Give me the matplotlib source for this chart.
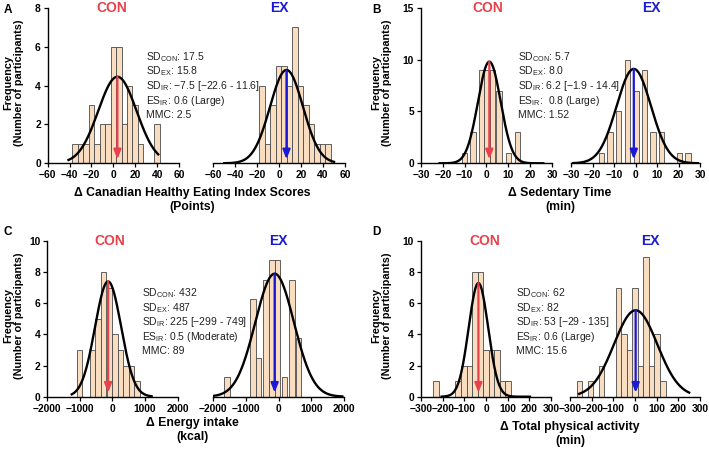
import numpy as np
import matplotlib
matplotlib.use("Agg")
import matplotlib.pyplot as plt

plt.rcParams['font.family'] = ['Liberation Sans', 'DejaVu Sans']
plt.rcParams['mathtext.fontset'] = 'custom'
plt.rcParams['mathtext.rm'] = 'Liberation Sans'
plt.rcParams['mathtext.it'] = 'Liberation Sans'

# ---- data ----
# A: Canadian Healthy Eating Index
a_con_x = [-35, -30, -25, -20, -15, -10, -5, 0, 5, 10, 15, 20, 25, 40]
a_con_n = [1, 1, 1, 3, 1, 2, 2, 6, 6, 2, 4, 3, 1, 2]
a_ex_x = [-15.5, -10.5, -5.5, -0.5, 4.5, 9.5, 14.5, 19.5, 24.5, 29.5, 34.5, 39.5, 44.5]
a_ex_n = [4, 1, 3, 5, 5, 4, 7, 4, 3, 2, 1, 1, 1]
# B: sedentary time
b_con_x = [-10, -6.1, -2.3, 0.3, 2.8, 5.7, 10.1, 14.3]
b_con_n = [1, 3, 9, 9, 9, 7, 1, 3]
b_ex_x = [-15.7, -11.8, -7.9, -3.8, 0.4, 4.1, 8.2, 12.1, 20.5, 24.4]
b_ex_n = [1, 3, 5, 10, 7, 9, 3, 3, 1, 1]
# C: energy intake
c_con_x = [-1015, -607, -439, -270, -97, 71, 240, 413, 582, 750]
c_con_n = [3, 3, 5, 8, 7, 4, 3, 2, 2, 1]
c_ex_x = [-1588, -785, -615, -385, -205, -38, 185, 412, 606]
c_ex_n = [1.25, 6.25, 2.5, 7.5, 8.75, 8.75, 1.25, 7.5, 3.75]
# D: total physical activity
d_con_x = [-230, -128, -102, -77, -51, -26, 0, 26, 51, 77, 102]
d_con_n = [1, 1, 2, 2, 8, 8, 3, 3, 3, 1, 1]
d_ex_x = [-256, -205, -154, -77, -51, -26, 0, 26, 51, 77, 102, 128]
d_ex_n = [1, 1, 2, 7, 4, 3, 7, 2, 9, 2, 4, 1]

# fitted normal curves: mean, sd, peak height, drawn range
a_con_fit = (3.7, 17.5, 4.45, -41, 41)
a_ex_fit = (6.7, 15.0, 4.8, -50, 50)
b_con_fit = (1.3, 5.2, 9.8, -21.5, 26)
b_ex_fit = (-0.8, 8.0, 9.1, -29, 29)
c_con_fit = (-135, 400, 7.4, -1250, 1200)
c_ex_fit = (-123, 590, 7.9, -2000, 1950)
d_con_fit = (-35, 45, 7.3, -205, 203)
d_ex_fit = (3, 100, 5.55, -258, 250)

stats_a = [r'SD$_{\rm CON}$: 17.5', r'SD$_{\rm EX}$: 15.8',
           r'SD$_{\rm IR}$: −7.5 [−22.6 - 11.6]', r'ES$_{\rm IR}$: 0.6 (Large)', 'MMC: 2.5']
stats_b = [r'SD$_{\rm CON}$: 5.7', r'SD$_{\rm EX}$: 8.0',
           r'SD$_{\rm IR}$: 6.2 [−1.9 - 14.4]', r'ES$_{\rm IR}$:  0.8 (Large)', 'MMC: 1.52']
stats_c = [r'SD$_{\rm CON}$: 432', r'SD$_{\rm EX}$: 487',
           r'SD$_{\rm IR}$: 225 [−299 - 749]', r'ES$_{\rm IR}$: 0.5 (Moderate)', 'MMC: 89']
stats_d = [r'SD$_{\rm CON}$: 62', r'SD$_{\rm EX}$: 82',
           r'SD$_{\rm IR}$: 53 [−29 - 135]', r'ES$_{\rm IR}$: 0.6 (Large)', 'MMC: 15.6']

RED = '#E8414B'
BLUE = '#1A1AD6'
BAR = '#F9DDC0'
W, H = 709, 450

fig = plt.figure(figsize=(7.09, 4.5), dpi=100)


def px_axes(left, right, top, bottom):
    return fig.add_axes([left / W, 1 - bottom / H, (right - left) / W, (bottom - top) / H])


def panel(ax, xs, ns, width, fit, color, xlim, xticks, ymax, yticks, show_y, title, title_x):
    ax.bar(xs, ns, width=width, color=BAR, edgecolor='#4a4a4a', linewidth=0.6, zorder=2)
    mu, sd, peak, x0, x1 = fit
    gx = np.linspace(x0, x1, 300)
    ax.plot(gx, peak * np.exp(-0.5 * ((gx - mu) / sd) ** 2), color='black', lw=1.7, zorder=4)
    ax.annotate('', xy=(mu, ymax * 0.026), xytext=(mu, peak),
                arrowprops=dict(arrowstyle='-|>,head_width=0.22,head_length=0.55',
                                color=color, lw=1.6, shrinkA=0, shrinkB=0, mutation_scale=10),
                zorder=5)
    ax.set_xlim(xlim)
    ax.set_ylim(0, ymax)
    ax.set_xticks(xticks)
    ax.spines['top'].set_visible(False)
    ax.spines['right'].set_visible(False)
    ax.spines['bottom'].set_linewidth(1.0)
    ax.spines['left'].set_linewidth(1.0)
    ax.tick_params(direction='out', length=3, width=0.9, labelsize=7.4, pad=2)
    if show_y:
        ax.set_yticks(yticks)
    else:
        ax.spines['left'].set_visible(False)
        ax.set_yticks([])
    for lbl in ax.get_xticklabels() + ax.get_yticklabels():
        lbl.set_fontweight('bold')
    ax.patch.set_alpha(0)
    ax.text(title_x, ymax, title, color=color, fontsize=10, fontweight='bold',
            ha='center', va='center', clip_on=False)


# panel A
ax = px_axes(47.7, 179, 7.7, 163.3)
panel(ax, a_con_x, a_con_n, 5, a_con_fit, RED, (-60, 60), range(-60, 61, 20), 8, range(0, 9, 2), True, 'CON', -1.5)
ax = px_axes(213.3, 345, 7.7, 163.3)
panel(ax, a_ex_x, a_ex_n, 5, a_ex_fit, BLUE, (-60, 60), range(-60, 61, 20), 8, [], False, 'EX', 0)

# panel B
ax = px_axes(421, 552, 7.7, 163.3)
panel(ax, b_con_x, b_con_n, 2.5, b_con_fit, RED, (-30, 30), range(-30, 31, 10), 15, range(0, 16, 5), True, 'CON', 0.5)
ax = px_axes(571, 700, 7.7, 163.3)
panel(ax, b_ex_x, b_ex_n, 2.5, b_ex_fit, BLUE, (-30, 30), range(-30, 31, 10), 15, [], False, 'EX', 7.5)

# panel C
ax = px_axes(47.3, 177.7, 241, 396.7)
panel(ax, c_con_x, c_con_n, 170, c_con_fit, RED, (-2000, 2000), range(-2000, 2001, 1000), 10, range(0, 11, 2), True, 'CON', -80)
ax = px_axes(213.3, 344, 241, 396.7)
panel(ax, c_ex_x, c_ex_n, 170, c_ex_fit, BLUE, (-2000, 2000), range(-2000, 2001, 1000), 10, [], False, 'EX', 0)

# panel D
ax = px_axes(421, 551, 241, 396.7)
panel(ax, d_con_x, d_con_n, 25.6, d_con_fit, RED, (-300, 300), range(-300, 301, 100), 10, range(0, 11, 2), True, 'CON', -5)
ax = px_axes(570, 700, 241, 396.7)
panel(ax, d_ex_x, d_ex_n, 25.6, d_ex_fit, BLUE, (-300, 300), range(-300, 301, 100), 10, [], False, 'EX', 72)

# panel letters
for lx, ly, s in [(4, 10, 'A'), (372, 10, 'B'), (4, 232, 'C'), (372, 232, 'D')]:
    fig.text(lx / W, 1 - ly / H, s, fontsize=8.5, fontweight='bold', ha='left', va='center')

# y labels
ylab = 'Frequency\n(Number of participants)'
for lx, ly in [(13.5, 83), (381.5, 83), (13.5, 316), (381.5, 316)]:
    fig.text(lx / W, 1 - ly / H, ylab, fontsize=7.8, fontweight='bold', rotation=90,
             ha='center', va='center', linespacing=1.15)

# x labels
for lx, ly, s in [(192, 200, 'Δ Canadian Healthy Eating Index Scores\n(Points)'),
                  (560, 200, 'Δ Sedentary Time\n(min)'),
                  (192, 430, 'Δ Energy intake\n(kcal)'),
                  (570, 434, 'Δ Total physical activity\n(min)')]:
    fig.text(lx / W, 1 - ly / H, s, fontsize=8.8, fontweight='bold', ha='center', va='center',
             linespacing=1.2)

# stats text
for sx, sy0, lines in [(146, 57, stats_a), (518, 57, stats_b), (141.5, 293, stats_c), (515.5, 293, stats_d)]:
    for i, s in enumerate(lines):
        fig.text(sx / W, 1 - (sy0 + i * 14.6) / H, s, fontsize=7.5, color='#222222',
                 ha='left', va='center')

fig.savefig('out.png', dpi=100)
